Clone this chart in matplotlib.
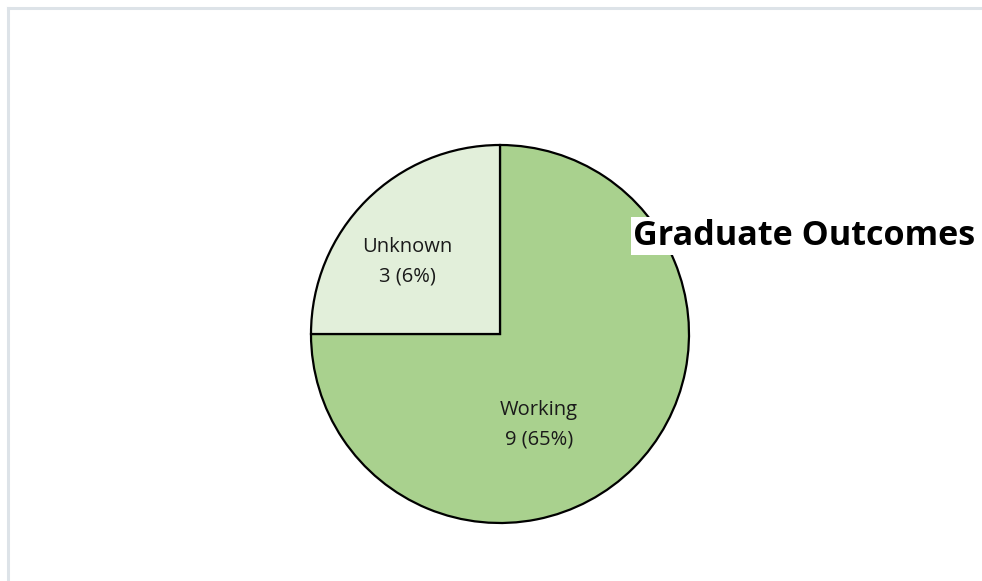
import matplotlib
matplotlib.use("Agg")
import matplotlib.pyplot as plt
from matplotlib.lines import Line2D

categories = ["Working", "Unknown"]
values = [9, 3]
label_texts = ["Working\n9 (65%)", "Unknown\n3 (6%)"]
colors = ["#a9d18e", "#e2efda"]
title = "Graduate Outcomes"

W, H = 982, 581
fig = plt.figure(figsize=(W / 100, H / 100), dpi=100)
ax = fig.add_axes([0, 0, 1, 1])

# light frame (top and left edges)
fig.add_artist(Line2D([7.5 / W, 7.5 / W], [0, 1 - 7.5 / H], transform=fig.transFigure,
                      color="#dde3e8", lw=2.2))
fig.add_artist(Line2D([7.5 / W, 1], [1 - 7.5 / H, 1 - 7.5 / H], transform=fig.transFigure,
                      color="#dde3e8", lw=2.2))

cx, cy, r = 500, H - 334, 189
wedges, _ = ax.pie(values, colors=colors, startangle=90, counterclock=False,
                   center=(cx, cy), radius=r, frame=True,
                   wedgeprops=dict(edgecolor="black", linewidth=1.6))
ax.set_xlim(0, W)
ax.set_ylim(0, H)
ax.set_aspect("equal")
ax.axis("off")

label_pos = [(539, H - 425), (407, H - 262)]
for (x, y), t in zip(label_pos, label_texts):
    ax.text(x, y, t, ha="center", va="center", fontsize=14.5, family="Open Sans",
            color="#1a1a1a", linespacing=1.6)

ax.text(633, H - 236, title, ha="left", va="center", fontsize=24.6,
        family="Open Sans", fontweight="bold", color="black", zorder=10,
        bbox=dict(boxstyle="square,pad=0.05", facecolor="white", edgecolor="none"))

fig.savefig("out.png", dpi=100, facecolor="white")
